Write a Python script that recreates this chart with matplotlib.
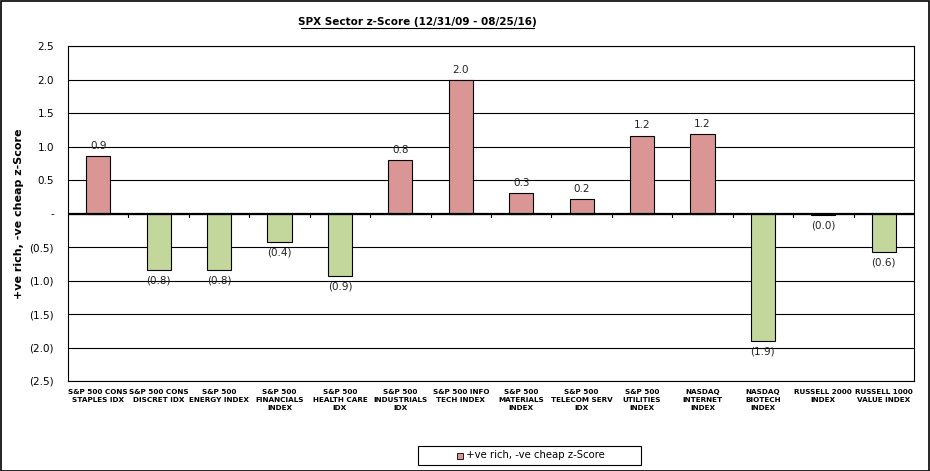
import matplotlib.pyplot as plt
from matplotlib.patches import Rectangle

# categorias y valores (z-score)
categories = [
    "S&P 500 CONS\nSTAPLES IDX", "S&P 500 CONS\nDISCRET IDX", "S&P 500\nENERGY INDEX",
    "S&P 500\nFINANCIALS\nINDEX", "S&P 500\nHEALTH CARE\nIDX", "S&P 500\nINDUSTRIALS\nIDX",
    "S&P 500 INFO\nTECH INDEX", "S&P 500\nMATERIALS\nINDEX", "S&P 500\nTELECOM SERV\nIDX",
    "S&P 500\nUTILITIES\nINDEX", "NASDAQ\nINTERNET\nINDEX", "NASDAQ\nBIOTECH\nINDEX",
    "RUSSELL 2000\nINDEX", "RUSSELL 1000\nVALUE INDEX",
]
zscores = [0.86, -0.84, -0.84, -0.42, -0.93, 0.80, 1.99, 0.30, 0.21, 1.16, 1.18, -1.90, -0.02, -0.58]
yticks = [2.5, 2.0, 1.5, 1.0, 0.5, 0, -0.5, -1.0, -1.5, -2.0, -2.5]

pink = "#D99694"
green = "#C3D69B"


def fmt(v):
    if abs(v) < 1e-9:
        return "-"
    if v < 0:
        return f"({abs(v):.1f})"
    return f"{v:.1f}"


fig = plt.figure(figsize=(9.3, 4.71), dpi=100)
ax = fig.add_axes([68 / 930, 1 - 381 / 471, (914 - 68) / 930, (381 - 46) / 471])

x = list(range(len(categories)))
colors = [pink if v >= 0 else green for v in zscores]
ax.bar(x, zscores, width=0.4, color=colors, edgecolor="black", linewidth=0.8, zorder=3)

for xi, v in zip(x, zscores):
    if v >= 0:
        ax.text(xi, v + 0.08, fmt(v), ha="center", va="bottom", fontsize=7.5, color="#222222")
    else:
        ax.text(xi, v - 0.08, fmt(v), ha="center", va="top", fontsize=7.5, color="#222222")

ax.set_xlim(-0.5, len(categories) - 0.5)
ax.set_ylim(-2.5, 2.5)
ax.set_yticks(yticks)
ax.set_yticklabels([fmt(t) for t in yticks], fontsize=7.5)
ax.tick_params(axis="y", length=0, pad=10)
ax.yaxis.grid(True, color="black", linewidth=0.8, zorder=0)
ax.set_axisbelow(True)
ax.axhline(0, color="black", linewidth=1.6, zorder=4)

# etiquetas de categoria debajo del area
ax.set_xticks([])
for xi, c in zip(x, categories):
    ax.text(xi, -2.62, c, ha="center", va="top", fontsize=5.2, fontweight="bold",
            linespacing=1.4)

# marcas en el eje cero entre categorias
for b in range(1, len(categories)):
    ax.plot([b - 0.5, b - 0.5], [0, -0.05], color="black", linewidth=0.8, zorder=4)

for side in ["top", "right", "left", "bottom"]:
    ax.spines[side].set_color("black")
    ax.spines[side].set_linewidth(0.8)

ax.set_ylabel("+ve rich, -ve cheap z-Score", fontsize=8, fontweight="bold")
ax.yaxis.set_label_coords(-0.052, 0.5)

fig.text(0.449, 1 - 22 / 471, "SPX Sector z-Score (12/31/09 - 08/25/16)", ha="center", va="center",
         fontsize=7.5, fontweight="bold")
# subrayado del titulo
fig.add_artist(plt.Line2D([301 / 930, 534 / 930], [1 - 28 / 471, 1 - 28 / 471], color="black", linewidth=0.8))

# leyenda (caja al estilo Excel)
fig.add_artist(Rectangle((418 / 930, 1 - 465 / 471), 223 / 930, 19 / 471, transform=fig.transFigure,
                         facecolor="white", edgecolor="black", linewidth=0.8))
fig.add_artist(Rectangle((457 / 930, 1 - 459 / 471), 6 / 930, 6 / 471, transform=fig.transFigure,
                         facecolor=pink, edgecolor="black", linewidth=0.6))
fig.text(466 / 930, 1 - 455.5 / 471, "+ve rich, -ve cheap z-Score", ha="left", va="center", fontsize=7.3)

fig.add_artist(Rectangle((0.001, 0.001), 0.998, 0.997, transform=fig.transFigure, fill=False,
                         edgecolor="black", linewidth=1.2))

fig.savefig("out.png", dpi=100)
